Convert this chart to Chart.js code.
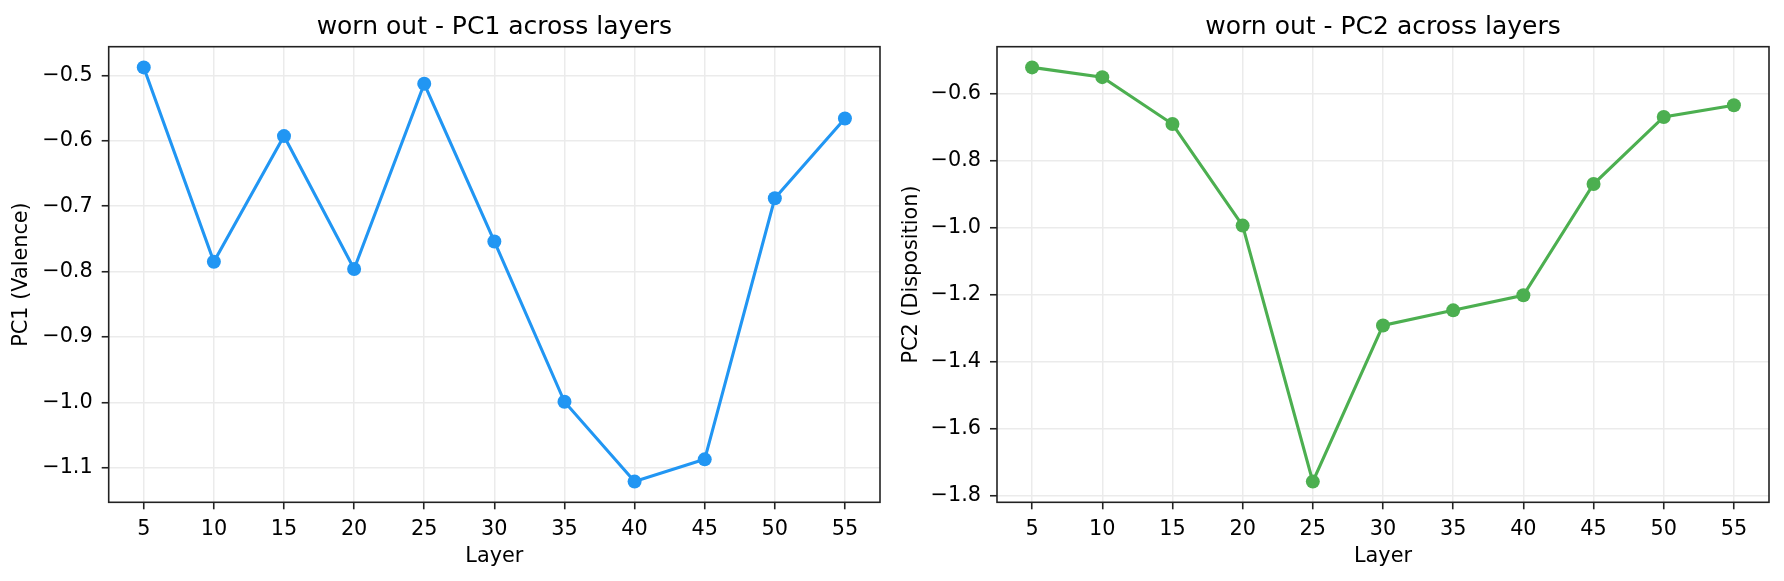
<!DOCTYPE html>
<html><head><meta charset="utf-8">
<script src="https://cdn.jsdelivr.net/npm/chart.js@4"></script>
<style>html,body{margin:0;padding:0;background:#fff;overflow:hidden;width:1784px;height:581px}
canvas{position:absolute;top:0}
#c1{left:0}#c2{left:892px}</style></head>
<body>
<canvas id="c1" width="892" height="581"></canvas>
<canvas id="c2" width="892" height="581"></canvas>
<script>
const layers = [5,10,15,20,25,30,35,40,45,50,55];
const pc1 = [-0.488,-0.785,-0.593,-0.796,-0.513,-0.754,-0.999,-1.121,-1.087,-0.688,-0.566];
const pc2 = [-0.521,-0.550,-0.690,-0.993,-1.757,-1.291,-1.246,-1.201,-0.869,-0.669,-0.634];
const xTicks = [5,10,15,20,25,30,35,40,45,50,55];
const pc1Ticks = [-1.1,-1.0,-0.9,-0.8,-0.7,-0.6,-0.5];
const pc2Ticks = [-1.8,-1.6,-1.4,-1.2,-1.0,-0.8,-0.6];
const titles = ['worn out - PC1 across layers','worn out - PC2 across layers'];
const yLabels = ['PC1 (Valence)','PC2 (Disposition)'];
const xLabel = 'Layer';
const colors = ['#2196F3','#4CAF50'];

Chart.defaults.font.family = "'DejaVu Sans', sans-serif";
Chart.defaults.color = '#000';

const frame = {
  id:'frame',
  afterDatasetsDraw(chart){
    const {ctx, chartArea:a} = chart;
    ctx.save();
    ctx.strokeStyle = '#222';
    ctx.lineWidth = 1.6;
    ctx.strokeRect(a.left, a.top, a.right-a.left, a.bottom-a.top);
    ctx.restore();
  }
};

function pad(vals){
  const mn = Math.min(...vals), mx = Math.max(...vals), r = mx-mn;
  return [mn-0.05*r, mx+0.05*r];
}
const fmt = v => (v<0?'\u2212':'') + Math.abs(v).toFixed(1);

function make(id, values, yTicks, title, yLabel, color, yWidth, rightPad, yTitlePad){
  const [ymin,ymax] = pad(values);
  const [xmin,xmax] = pad(layers);
  return new Chart(document.getElementById(id), {
    type:'line',
    data:{datasets:[{
      data: layers.map((x,i)=>({x, y: values[i]})),
      borderColor: color, backgroundColor: color,
      pointBackgroundColor: color, pointBorderWidth: 0,
      pointRadius: 7, borderWidth: 3.1, tension: 0, clip: false
    }]},
    options:{
      responsive:false, animation:false, devicePixelRatio:1,
      layout:{padding:{left:0,right:rightPad,top:0,bottom:0}},
      plugins:{
        legend:{display:false}, tooltip:{enabled:false},
        title:{display:true, text:title, fullSize:false, color:'#000',
          font:{size:25, weight:'normal'}, padding:{top:12,bottom:4.7}}
      },
      scales:{
        x:{type:'linear', min:xmin, max:xmax,
          afterBuildTicks: s => { s.ticks = xTicks.map(v=>({value:v})); },
          afterFit: s => { s.height = 78.7; },
          ticks:{font:{size:20.8}, color:'#000', padding:7.5, maxRotation:0, autoSkip:false},
          grid:{color:'#ebebeb', lineWidth:1.5, tickColor:'#222', tickWidth:1.6, tickLength:7},
          border:{display:false},
          title:{display:true, text:xLabel, font:{size:20.8}, color:'#000', padding:{top:0,bottom:12}}
        },
        y:{type:'linear', min:ymin, max:ymax,
          afterBuildTicks: s => { s.ticks = yTicks.map(v=>({value:v})); },
          afterFit: s => { s.width = yWidth; },
          ticks:{font:{size:20.8}, color:'#000', padding:9, callback: v => fmt(v), autoSkip:false},
          grid:{color:'#ebebeb', lineWidth:1.5, tickColor:'#222', tickWidth:1.6, tickLength:7},
          border:{display:false},
          title:{display:true, text:yLabel, font:{size:20.8}, color:'#000', padding:{top:yTitlePad,bottom:0}}
        }
      }
    },
    plugins:[frame]
  });
}
make('c1', pc1, pc1Ticks, titles[0], yLabels[0], colors[0], 108.7, 12, 9.2);
make('c2', pc2, pc2Ticks, titles[1], yLabels[1], colors[1], 105, 15, 7.2);
</script>
</body></html>
